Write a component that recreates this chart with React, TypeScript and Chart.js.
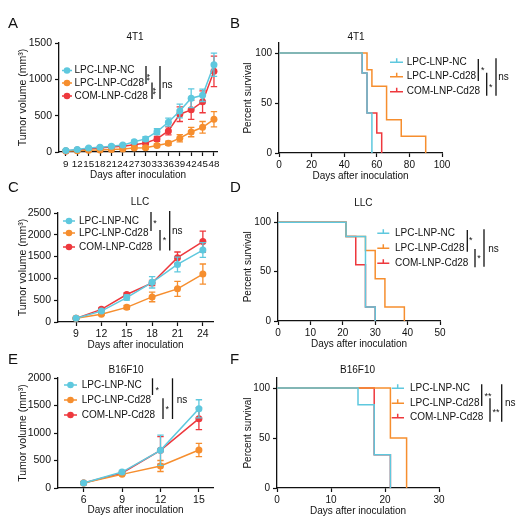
import { useEffect, useRef } from "react";
import { Chart, registerables } from "chart.js";

Chart.register(...registerables);

const W = 525;
const H = 521;
const FONT = "'Liberation Sans', Arial, Helvetica, sans-serif";
const INK = "#111111";
const CYAN = "#5ec8de";
const ORANGE = "#f68e2e";
const RED = "#ee383d";
const SERIES = ["LPC-LNP-NC", "LPC-LNP-Cd28", "COM-LNP-Cd28"];
const COLORS = [CYAN, ORANGE, RED];

// ---------- Panel A : 4T1 tumour volume ----------
const daysA = [9, 12, 15, 18, 21, 24, 27, 30, 33, 36, 39, 42, 45, 48];
const a_nc = [20, 35, 55, 65, 80, 95, 140, 180, 280, 410, 565, 740, 780, 1200];
const a_ncErr = [8, 10, 12, 12, 15, 15, 20, 30, 40, 55, 95, 130, 85, 160];
const a_cd28 = [15, 18, 23, 28, 35, 40, 55, 60, 90, 120, 190, 275, 340, 450];
const a_cd28Err = [5, 5, 6, 6, 8, 10, 12, 15, 20, 30, 50, 65, 80, 105];
const a_com = [15, 28, 42, 55, 68, 80, 100, 125, 180, 290, 520, 580, 690, 1110];
const a_comErr = [5, 8, 10, 12, 15, 15, 20, 25, 35, 55, 100, 130, 150, 210];
const yTicksA = [0, 500, 1000, 1500];

// ---------- Panel C : LLC tumour volume ----------
const daysC = [9, 12, 15, 18, 21, 24];
const c_nc = [84, 250, 560, 910, 1320, 1650];
const c_ncErr = [15, 30, 60, 130, 170, 170];
const c_cd28 = [84, 176, 336, 575, 760, 1100];
const c_cd28Err = [10, 25, 45, 110, 170, 230];
const c_com = [84, 290, 630, 895, 1475, 1845];
const c_comErr = [10, 30, 40, 60, 130, 240];
const yTicksC = [0, 500, 1000, 1500, 2000, 2500];

// ---------- Panel E : B16F10 tumour volume ----------
const daysE = [6, 9, 12, 15];
const e_nc = [91, 290, 685, 1440];
const e_ncErr = [10, 30, 275, 165];
const e_cd28 = [91, 248, 400, 690];
const e_cd28Err = [10, 20, 100, 120];
const e_com = [91, 273, 685, 1260];
const e_comErr = [10, 20, 250, 200];
const yTicksE = [0, 500, 1000, 1500, 2000];

// ---------- Survival (Kaplan-Meier) ----------
const survTicksY = [0, 50, 100];
// B : 4T1
const b_ncDays = [0, 51, 54, 57];
const b_ncSurv = [100, 80, 40, 0];
const b_cd28Days = [0, 54, 57, 66, 75, 90];
const b_cd28Surv = [100, 83.3, 66.7, 33.3, 16.7, 0];
const b_comDays = [0, 51, 54, 60, 63];
const b_comSurv = [100, 80, 40, 20, 0];
const xTicksB = [0, 20, 40, 60, 80, 100];
// D : LLC
const d_ncDays = [0, 21, 27, 30];
const d_ncSurv = [100, 85.7, 14.3, 0];
const d_cd28Days = [0, 21, 27, 30, 33, 39];
const d_cd28Surv = [100, 85.7, 71.4, 42.9, 14.3, 0];
const d_comDays = [0, 21, 24, 27, 30];
const d_comSurv = [100, 85.7, 57.1, 14.3, 0];
const xTicksD = [0, 10, 20, 30, 40, 50];
// F : B16F10
const f_ncDays = [0, 15, 18, 21];
const f_ncSurv = [100, 83.3, 33.3, 0];
const f_cd28Days = [0, 21, 24];
const f_cd28Surv = [100, 50, 0];
const f_comDays = [0, 18, 21];
const f_comSurv = [100, 33.3, 0];
const xTicksF = [0, 10, 20, 30];

type Series = { x: number[]; y: number[]; err?: number[] };
type Bracket = { x: number; y0: number; y1: number; label: string; lx: number; ly: number; rot?: boolean };
type Panel = {
  kind: "tumor" | "survival";
  letter: string;
  letterPos: [number, number];
  title: string;
  titlePos: [number, number];
  area: { l: number; r: number; t: number; b: number };
  xMin: number;
  xMax: number;
  xTicks: number[];
  yMax: number;
  yTicks: number[];
  yTitle: string;
  yTitleX: number;
  xTitleY: number;
  xTickSize: number;
  series: Series[];
  legend: { rows: number[]; x0: number; x1: number; mark: number; text: number };
  brackets: Bracket[];
};

const panels: Panel[] = [
  {
    kind: "tumor", letter: "A", letterPos: [8, 24], title: "4T1", titlePos: [135, 37],
    area: { l: 59, r: 217, t: 43, b: 152 },
    xMin: 7.2, xMax: 48.8, xTicks: daysA, yMax: 1500, yTicks: yTicksA,
    yTitle: "Tumor volume (mm³)", yTitleX: 23.5, xTitleY: 175, xTickSize: 9.8,
    series: [
      { x: daysA, y: a_nc, err: a_ncErr },
      { x: daysA, y: a_cd28, err: a_cd28Err },
      { x: daysA, y: a_com, err: a_comErr },
    ],
    legend: { rows: [70.5, 83, 96], x0: 62, x1: 72, mark: 67, text: 74.5 },
    brackets: [
      { x: 146, y0: 66, y1: 84, label: "**", lx: 149.3, ly: 77.3, rot: true },
      { x: 152, y0: 82.5, y1: 99, label: "**", lx: 154.7, ly: 91, rot: true },
      { x: 160, y0: 66, y1: 99, label: "ns", lx: 162, ly: 85 },
    ],
  },
  {
    kind: "survival", letter: "B", letterPos: [230, 24], title: "4T1", titlePos: [356, 37],
    area: { l: 279, r: 442, t: 43, b: 153 },
    xMin: 0, xMax: 100, xTicks: xTicksB, yMax: 110, yTicks: survTicksY,
    yTitle: "Percent survival", yTitleX: 248, xTitleY: 176, xTickSize: 10,
    series: [
      { x: b_ncDays, y: b_ncSurv },
      { x: b_cd28Days, y: b_cd28Surv },
      { x: b_comDays, y: b_comSurv },
    ],
    legend: { rows: [62.3, 76.7, 91.7], x0: 390, x1: 403, mark: 396.7, text: 406.7 },
    brackets: [
      { x: 478.3, y0: 59, y1: 81, label: "*", lx: 482.7, ly: 68.3 },
      { x: 486.7, y0: 72.7, y1: 95.7, label: "*", lx: 490.7, ly: 85 },
      { x: 496, y0: 58.3, y1: 95.7, label: "ns", lx: 498.3, ly: 77.3 },
    ],
  },
  {
    kind: "tumor", letter: "C", letterPos: [8, 188], title: "LLC", titlePos: [140, 202],
    area: { l: 58, r: 213, t: 213, b: 322 },
    xMin: 6.87, xMax: 25.2, xTicks: daysC, yMax: 2500, yTicks: yTicksC,
    yTitle: "Tumor volume (mm³)", yTitleX: 23.5, xTitleY: 345, xTickSize: 10.5,
    series: [
      { x: daysC, y: c_nc, err: c_ncErr },
      { x: daysC, y: c_cd28, err: c_cd28Err },
      { x: daysC, y: c_com, err: c_comErr },
    ],
    legend: { rows: [221, 233, 247], x0: 63, x1: 75, mark: 69, text: 79 },
    brackets: [
      { x: 151, y0: 212, y1: 231, label: "*", lx: 155, ly: 221 },
      { x: 160, y0: 230, y1: 250.5, label: "*", lx: 164.5, ly: 238.3 },
      { x: 169.7, y0: 211, y1: 250.5, label: "ns", lx: 172, ly: 231.5 },
    ],
  },
  {
    kind: "survival", letter: "D", letterPos: [230, 188], title: "LLC", titlePos: [363.3, 203.3],
    area: { l: 278, r: 440, t: 212.5, b: 321 },
    xMin: 0, xMax: 50, xTicks: xTicksD, yMax: 110, yTicks: survTicksY,
    yTitle: "Percent survival", yTitleX: 248, xTitleY: 344, xTickSize: 10,
    series: [
      { x: d_ncDays, y: d_ncSurv },
      { x: d_cd28Days, y: d_cd28Surv },
      { x: d_comDays, y: d_comSurv },
    ],
    legend: { rows: [233.3, 248.3, 263.3], x0: 377.3, x1: 389.3, mark: 383.3, text: 395 },
    brackets: [
      { x: 467.3, y0: 230, y1: 251.7, label: "*", lx: 470.7, ly: 238.3 },
      { x: 475, y0: 249, y1: 267.3, label: "*", lx: 479, ly: 256 },
      { x: 484, y0: 229.3, y1: 266.7, label: "ns", lx: 488.3, ly: 249 },
    ],
  },
  {
    kind: "tumor", letter: "E", letterPos: [8, 360], title: "B16F10", titlePos: [126, 370],
    area: { l: 58, r: 213, t: 378, b: 488 },
    xMin: 4, xMax: 16.1, xTicks: daysE, yMax: 2000, yTicks: yTicksE,
    yTitle: "Tumor volume (mm³)", yTitleX: 23, xTitleY: 510, xTickSize: 10.5,
    series: [
      { x: daysE, y: e_nc, err: e_ncErr },
      { x: daysE, y: e_cd28, err: e_cd28Err },
      { x: daysE, y: e_com, err: e_comErr },
    ],
    legend: { rows: [385, 400, 415], x0: 64, x1: 77, mark: 70.5, text: 81.7 },
    brackets: [
      { x: 152.5, y0: 378.3, y1: 395, label: "*", lx: 157.3, ly: 388.3 },
      { x: 163, y0: 398.3, y1: 419, label: "*", lx: 167.3, ly: 406.7 },
      { x: 172.5, y0: 378.3, y1: 419, label: "ns", lx: 176.7, ly: 400 },
    ],
  },
  {
    kind: "survival", letter: "F", letterPos: [230, 360], title: "B16F10", titlePos: [357.5, 370],
    area: { l: 277, r: 439, t: 378, b: 488 },
    xMin: 0, xMax: 30, xTicks: xTicksF, yMax: 110, yTicks: survTicksY,
    yTitle: "Percent survival", yTitleX: 248, xTitleY: 511, xTickSize: 10,
    series: [
      { x: f_ncDays, y: f_ncSurv },
      { x: f_cd28Days, y: f_cd28Surv },
      { x: f_comDays, y: f_comSurv },
    ],
    legend: { rows: [388.3, 403.3, 417.7], x0: 391.7, x1: 404, mark: 397.7, text: 410 },
    brackets: [
      { x: 481.7, y0: 384.3, y1: 406, label: "**", lx: 488, ly: 394.3 },
      { x: 490, y0: 398.3, y1: 421.7, label: "**", lx: 496, ly: 410 },
      { x: 501.7, y0: 384.3, y1: 421.7, label: "ns", lx: 505, ly: 403.3 },
    ],
  },
];

const errorBarPlugin = {
  id: "errorBars",
  beforeDatasetDraw(chart: any, args: any) {
    const ds = chart.data.datasets[args.index];
    if (!ds.errors) return;
    const xs = chart.scales.x;
    const ys = chart.scales.y;
    const ctx = chart.ctx;
    ctx.save();
    ctx.strokeStyle = ds.borderColor;
    ctx.lineWidth = 1.3;
    ds.data.forEach((p: any, j: number) => {
      const e = ds.errors[j];
      if (!e) return;
      const px = xs.getPixelForValue(p.x);
      const yt = ys.getPixelForValue(p.y + e);
      const yb = ys.getPixelForValue(Math.max(0, p.y - e));
      ctx.beginPath();
      ctx.moveTo(px, yt);
      ctx.lineTo(px, yb);
      ctx.moveTo(px - 3.2, yt);
      ctx.lineTo(px + 3.2, yt);
      ctx.moveTo(px - 3.2, yb);
      ctx.lineTo(px + 3.2, yb);
      ctx.stroke();
    });
    ctx.restore();
  },
};

function decorPlugin(p: Panel) {
  return {
    id: "decor" + p.letter,
    afterDraw(chart: any) {
      const ctx = chart.ctx as CanvasRenderingContext2D;
      ctx.save();
      ctx.fillStyle = INK;
      ctx.textBaseline = "middle";
      ctx.textAlign = "left";
      ctx.font = `15px ${FONT}`;
      ctx.fillText(p.letter, p.letterPos[0], p.letterPos[1]);
      ctx.textAlign = "center";
      ctx.font = `10px ${FONT}`;
      ctx.fillText(p.title, p.titlePos[0], p.titlePos[1]);

      const lg = p.legend;
      lg.rows.forEach((y, i) => {
        ctx.strokeStyle = COLORS[i];
        ctx.fillStyle = COLORS[i];
        ctx.lineWidth = 1.5;
        ctx.beginPath();
        ctx.moveTo(lg.x0, y);
        ctx.lineTo(lg.x1, y);
        if (p.kind === "survival") {
          ctx.moveTo(lg.mark, y - 4);
          ctx.lineTo(lg.mark, y);
        }
        ctx.stroke();
        if (p.kind === "tumor") {
          ctx.beginPath();
          ctx.arc(lg.mark, y, 3.3, 0, Math.PI * 2);
          ctx.fill();
        }
        ctx.fillStyle = INK;
        ctx.textAlign = "left";
        ctx.textBaseline = "middle";
        ctx.font = `10px ${FONT}`;
        ctx.fillText(SERIES[i], lg.text, y);
      });

      ctx.strokeStyle = INK;
      ctx.fillStyle = INK;
      ctx.lineWidth = 1.3;
      p.brackets.forEach((b) => {
        ctx.beginPath();
        ctx.moveTo(b.x, b.y0);
        ctx.lineTo(b.x, b.y1);
        ctx.stroke();
        if (b.label === "ns") {
          ctx.textAlign = "left";
          ctx.textBaseline = "middle";
          ctx.font = `10px ${FONT}`;
          ctx.fillText(b.label, b.lx, b.ly);
        } else {
          ctx.font = `9px ${FONT}`;
          ctx.textAlign = "center";
          ctx.textBaseline = "alphabetic";
          if (b.rot) {
            ctx.save();
            ctx.translate(b.lx - 5, b.ly);
            ctx.rotate(Math.PI / 2);
            ctx.fillText(b.label, 0, 0);
            ctx.restore();
          } else {
            ctx.fillText(b.label, b.lx, b.ly + 5);
          }
        }
      });
      ctx.restore();
    },
  };
}

function buildConfig(p: Panel): any {
  const yW = 45;
  const xH = 36;
  const yTitleSize = p.kind === "tumor" ? 10.5 : 10;
  const yLh = yTitleSize * 1.2;
  const xTitleSize = 10;
  const xLh = xTitleSize * 1.2;
  const datasets = p.series.map((s, i) => ({
    label: SERIES[i],
    data: s.x.map((x, j) => ({ x, y: s.y[j] })),
    errors: s.err,
    borderColor: COLORS[i],
    backgroundColor: COLORS[i],
    borderWidth: 1.5,
    pointRadius: p.kind === "tumor" ? 3.5 : 0,
    pointBorderWidth: 0,
    pointBackgroundColor: COLORS[i],
    stepped: p.kind === "survival" ? "before" : false,
    tension: 0,
    clip: 8,
  }));
  const axisCommon = {
    grid: {
      display: true,
      drawOnChartArea: false,
      drawTicks: true,
      tickLength: 4,
      tickWidth: 1.2,
      tickColor: INK,
    },
    border: { display: true, color: INK, width: 1.3 },
  };
  return {
    type: "line",
    data: { datasets },
    options: {
      responsive: false,
      animation: false,
      events: [],
      layout: {
        padding: {
          left: p.area.l - yW,
          right: W - p.area.r,
          top: p.area.t,
          bottom: H - p.area.b - xH,
        },
      },
      plugins: {
        legend: { display: false },
        tooltip: { enabled: false },
        title: { display: false },
      },
      scales: {
        x: {
          type: "linear",
          min: p.xMin,
          max: p.xMax,
          ...axisCommon,
          afterBuildTicks: (s: any) => {
            s.ticks = p.xTicks.map((v) => ({ value: v }));
          },
          afterFit: (s: any) => {
            s.height = xH;
          },
          ticks: {
            autoSkip: false,
            maxRotation: 0,
            minRotation: 0,
            padding: 2,
            color: INK,
            font: { family: FONT, size: p.xTickSize },
            callback: (v: any) => String(v),
          },
          title: {
            display: true,
            text: "Days after inoculation",
            color: INK,
            font: { family: FONT, size: xTitleSize },
            padding: { top: 0, bottom: p.area.b + xH - xLh / 2 - p.xTitleY },
          },
        },
        y: {
          type: "linear",
          min: 0,
          max: p.yMax,
          ...axisCommon,
          afterBuildTicks: (s: any) => {
            s.ticks = p.yTicks.map((v) => ({ value: v }));
          },
          afterFit: (s: any) => {
            s.width = yW;
          },
          ticks: {
            padding: 3,
            color: INK,
            font: { family: FONT, size: p.kind === "tumor" ? 10.5 : 10 },
            callback: (v: any) => String(v),
          },
          title: {
            display: true,
            text: p.yTitle,
            color: INK,
            font: { family: FONT, size: yTitleSize },
            padding: { top: p.yTitleX - (p.area.l - yW) - yLh / 2, bottom: 0 },
          },
        },
      },
    },
    plugins: [errorBarPlugin, decorPlugin(p)],
  };
}

function PanelCanvas({ panel }: { panel: Panel }) {
  const ref = useRef<HTMLCanvasElement | null>(null);
  useEffect(() => {
    if (!ref.current) return;
    const chart = new Chart(ref.current, buildConfig(panel));
    return () => chart.destroy();
  }, [panel]);
  return (
    <canvas
      ref={ref}
      width={W}
      height={H}
      style={{ position: "absolute", left: 0, top: 0, width: W, height: H }}
    />
  );
}

export default function App() {
  return (
    <div
      style={{
        position: "absolute",
        left: 0,
        top: 0,
        width: W,
        height: H,
        background: "#ffffff",
        overflow: "hidden",
      }}
    >
      {panels.map((p) => (
        <PanelCanvas key={p.letter} panel={p} />
      ))}
    </div>
  );
}
